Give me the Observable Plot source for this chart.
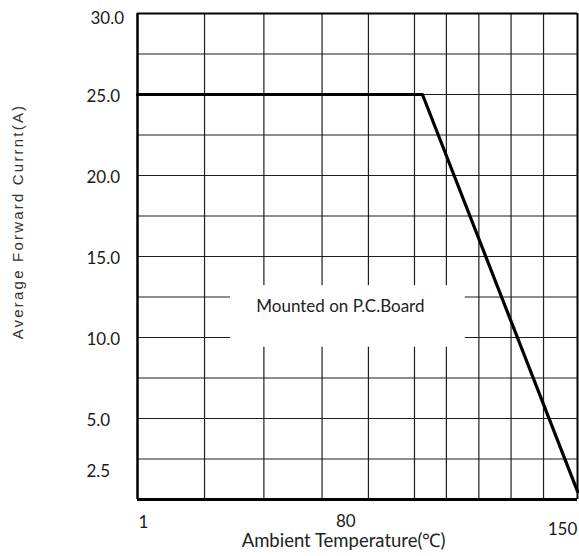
<!DOCTYPE html>
<html>
<head>
<meta charset="utf-8">
<script src="https://cdn.jsdelivr.net/npm/d3@7"></script>
<script src="https://cdn.jsdelivr.net/npm/@observablehq/plot@0.6"></script>
<style>
  html, body { margin: 0; padding: 0; background: #fff; }
</style>
</head>
<body>
<div id="chart"></div>
<script>
// ---- data ----
const temps = [1, 97.5, 150];          // Ambient temperature (°C)
const current = [25, 25, 0.5];         // Average forward current (A)
const xTickLabels = [1, 80, 150];
const yTickMain = [25, 20, 15, 10, 5];
const yTickTop = [30];
const yTickLow = [2.5];
const xGrid = [23.7, 43.8, 63.5, 79.2, 94.8, 105.6, 116.6, 127.5, 138.5];
const yGrid = [2.5, 5, 7.5, 10, 12.5, 15, 17.5, 20, 22.5, 25, 27.5];
const noteText = ["Mounted on P.C.Board"];
const noteX = [69.7];
const noteY = [11.9];
const noteBoxX = [32.5, 112];
const noteBoxY = [9.4, 13.2];
const xTitle = "Ambient Temperature(℃)";
const yTitle = "Average Forward Currnt(A)";

const curve = temps.map((t, i) => ({t, c: current[i]}));
const note = noteText.map((s, i) => ({s, x: noteX[i], y: noteY[i]}));
const box = [{x1: noteBoxX[0], x2: noteBoxX[1], y1: noteBoxY[0], y2: noteBoxY[1]}];

const tickFont = {fontSize: 17, fontFamily: "Lato", fill: "#1a1a1a"};
const fmt = d => d.toFixed(1);

const chart = Plot.plot({
  width: 579,
  height: 556,
  marginLeft: 137,
  marginRight: 2,
  marginTop: 13,
  marginBottom: 57,
  style: {background: "#fff", fontFamily: "Lato"},
  x: {domain: [1, 150], label: null},
  y: {domain: [0, 30], label: null},
  marks: [
    Plot.ruleX(xGrid, {stroke: "#1e1e1e", strokeWidth: 1.2}),
    Plot.ruleY(yGrid, {stroke: "#1e1e1e", strokeWidth: 1.2}),
    Plot.rect(box, {x1: "x1", x2: "x2", y1: "y1", y2: "y2", fill: "#fff"}),
    Plot.ruleX([1], {stroke: "#000", strokeWidth: 2.5}),
    Plot.ruleX([150], {stroke: "#000", strokeWidth: 2}),
    Plot.ruleY([0], {stroke: "#000", strokeWidth: 3}),
    Plot.ruleY([30], {stroke: "#000", strokeWidth: 2}),
    Plot.line(curve, {x: "t", y: "c", stroke: "#000", strokeWidth: 3.2}),
    Plot.text(note, {x: "x", y: "y", text: "s", fontSize: 17, fontFamily: "Lato", fill: "#222"}),
    Plot.axisY(yTickMain, {tickSize: 0, tickPadding: 51, textAnchor: "start", dy: 2, tickFormat: fmt, ...tickFont}),
    Plot.axisY(yTickTop, {tickSize: 0, tickPadding: 47, textAnchor: "start", dy: 5, tickFormat: fmt, ...tickFont}),
    Plot.axisY(yTickLow, {tickSize: 0, tickPadding: 51, textAnchor: "start", dy: 13, tickFormat: fmt, ...tickFont}),
    Plot.axisX([xTickLabels[0]], {tickSize: 0, tickPadding: 16, dx: 6, ...tickFont}),
    Plot.axisX([xTickLabels[1]], {tickSize: 0, tickPadding: 15, dx: -25, ...tickFont}),
    Plot.axisX([xTickLabels[2]], {tickSize: 0, tickPadding: 23, dx: -15, ...tickFont}),
    Plot.text([xTitle], {frameAnchor: "bottom", textAnchor: "middle", lineAnchor: "middle", dx: -14, dy: 42, fontSize: 18.5, fontFamily: "Lato", fill: "#222"}),
    Plot.text([yTitle], {frameAnchor: "left", textAnchor: "middle", lineAnchor: "middle", rotate: -90, dx: -119, dy: -35, fontSize: 15, fontFamily: "Liberation Sans", fill: "#333"})
  ]
});

d3.select(chart).selectAll("text").filter(function() { return this.textContent === yTitle; })
  .style("letter-spacing", "2.2px");

document.getElementById("chart").appendChild(chart);
</script>
</body>
</html>
